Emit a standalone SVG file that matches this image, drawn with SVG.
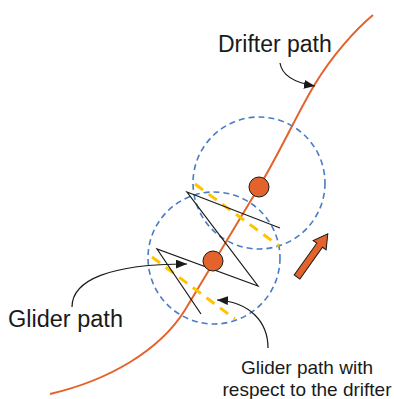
<svg xmlns="http://www.w3.org/2000/svg" width="394" height="399" viewBox="0 0 394 399">
<defs>
<style>
.lbl{font-family:"Liberation Sans",Arial,sans-serif;fill:#1a1a1a}
.ring{fill:none;stroke:#4A7CC4;stroke-width:1.6;stroke-dasharray:6 4}
.rel{fill:none;stroke:#FFC400;stroke-width:3;stroke-dasharray:10 7}
.dot{fill:#E4622C;stroke:#1a1a1a;stroke-width:1}
.lead{fill:none;stroke:#1a1a1a;stroke-width:1.2}
</style>
<marker id="ah" viewBox="0 0 10 8" refX="10" refY="4" markerWidth="11" markerHeight="9" markerUnits="userSpaceOnUse" orient="auto">
<path d="M0,0 L10,4 L0,8 z" fill="#1a1a1a"/>
</marker>
</defs>
<g id="drifter-path">
<path d="M50,394 C110,380 160,350 185,310 L259,187 C280,152 298,112 315,84 S355,30 373,15" fill="none" stroke="#E4622C" stroke-width="2"/>
</g>
<g id="circle-upper"><circle class="ring" cx="259" cy="183" r="66"/></g>
<g id="circle-lower"><circle class="ring" cx="214" cy="258" r="66"/></g>
<g id="relative-path">
<line class="rel" x1="195" y1="184" x2="279" y2="246"/>
<line class="rel" x1="152" y1="257" x2="235" y2="319"/>
</g>
<g id="glider-path">
<polyline points="280,228 187,192 258,286 157,249 201,314" fill="none" stroke="#1a1a1a" stroke-width="1.2"/>
</g>
<g id="drifter-upper"><circle class="dot" cx="259" cy="187" r="10"/></g>
<g id="drifter-lower"><circle class="dot" cx="213" cy="261" r="10"/></g>
<g id="direction-arrow">
<polygon transform="translate(297,277) rotate(-54.5)" points="0,-3.5 39,-3.5 39,-8 53,0 39,8 39,3.5 0,3.5" fill="#E4622C" stroke="#1a1a1a" stroke-width="1"/>
</g>
<g id="connectors">
<path class="lead" d="M280,63 C282,76 296,83 315,86" marker-end="url(#ah)"/>
<path class="lead" d="M72,307 C72,280 110,264 187,264" marker-end="url(#ah)"/>
<path class="lead" d="M268,348 C268,322 250,302 217,300" marker-end="url(#ah)"/>
</g>
<g id="label-drifter"><text class="lbl" x="218" y="52" font-size="23">Drifter path</text></g>
<g id="label-glider"><text class="lbl" x="8" y="327" font-size="23.5">Glider path</text></g>
<g id="label-relative">
<text class="lbl" x="307" y="374" font-size="19" text-anchor="middle">Glider path with</text>
<text class="lbl" x="307" y="396" font-size="19" text-anchor="middle">respect to the drifter</text>
</g>
</svg>
